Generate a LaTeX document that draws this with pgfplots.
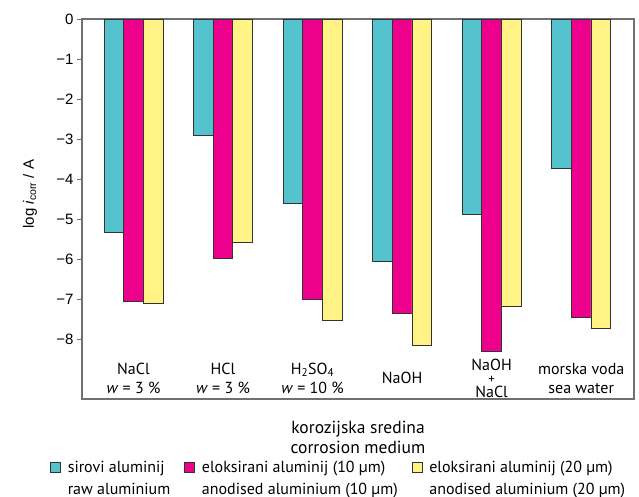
\documentclass[border=0pt]{standalone}
\usepackage{fontspec}
\setmainfont{PT Sans}
\newfontfamily\hel{Liberation Sans}
\usepackage{pgfplots}
\pgfplotsset{compat=1.18}
\definecolor{cy}{HTML}{55C3CD}
\definecolor{mg}{HTML}{EC008C}
\definecolor{yl}{HTML}{FFF385}
\definecolor{fr}{HTML}{707070}
\begin{document}
\begin{tikzpicture}
\useasboundingbox (-82bp,-98bp) rectangle (557bp,399bp);
\begin{axis}[
  at={(0,0)}, anchor=south west,
  scale only axis, width=552bp, height=380bp,
  ybar=0pt, bar width=19.6bp,
  xmin=-0.575, xmax=5.59, ymin=-9.5, ymax=0,
  xtick={0,1,2,3,4,5},
  xticklabels={{NaCl\\\textit{w} = 3 \%},{HCl\\\textit{w} = 3 \%},{H\textsubscript{2}SO\textsubscript{4}\\\textit{w} = 10 \%},{NaOH},{NaOH\\[-6bp]{\fontsize{13bp}{13bp}\selectfont +}\\[-5bp]NaCl},{morska voda\\sea water}},
  xticklabel style={align=center, anchor=center, yshift=26bp, font=\fontsize{16bp}{19bp}\selectfont},
  x tick style={draw=none},
  ytick={-8,-7,-6,-5,-4,-3,-2,-1,0},
  yticklabels={−8,−7,−6,−5,−4,−3,−2,−1,0},
  yticklabel style={font=\hel\fontsize{15bp}{18bp}\selectfont},
  ytick pos=left, tick align=outside, major tick length=5bp,
  y tick style={draw=fr, line width=1bp},
  axis line style={draw=fr, line width=1.2bp},
  xlabel={korozijska sredina\\corrosion medium},
  xlabel style={align=center, at={(axis description cs:0.5,-0.1)}, anchor=center, font=\fontsize{17.5bp}{20bp}\selectfont},
  ylabel={log \textit{i}\textsubscript{corr} / A},
  ylabel style={at={(axis description cs:-0.094,0.539)}, anchor=center, font=\hel\fontsize{15bp}{18bp}\selectfont},
  legend columns=3,
  legend style={draw=none, fill=none, inner sep=0pt, at={(axis description cs:0.465,-0.155)}, anchor=north,
    font=\fontsize{16bp}{19bp}\selectfont,
    cells={anchor=west, text height=12bp, text depth=3.5bp},
    /tikz/row sep=4.5bp,
    /tikz/every odd column/.append style={column sep=5bp},
    /tikz/every even column/.append style={column sep=12bp}},
  legend image code/.code={\draw[#1, line width=0.6bp] (-2bp,-5bp) rectangle (8bp,5bp);},
]
\addplot[fill=cy, draw=black!80, line width=0.7bp] coordinates {(0,-5.34) (1,-2.91) (2,-4.62) (3,-6.05) (4,-4.88) (5,-3.74)};
\addlegendentry{sirovi aluminij}
\addplot[fill=mg, draw=black!80, line width=0.7bp] coordinates {(0,-7.06) (1,-5.99) (2,-7.02) (3,-7.37) (4,-8.31) (5,-7.46)};
\addlegendentry{eloksirani aluminij (10 µm)}
\addplot[fill=yl, draw=black!80, line width=0.7bp] coordinates {(0,-7.11) (1,-5.59) (2,-7.54) (3,-8.17) (4,-7.19) (5,-7.74)};
\addlegendentry{eloksirani aluminij (20 µm)}
\addlegendimage{empty legend}
\addlegendentry{raw aluminium}
\addlegendimage{empty legend}
\addlegendentry{anodised aluminium (10 µm)}
\addlegendimage{empty legend}
\addlegendentry{anodised aluminium (20 µm)}
\end{axis}
\end{tikzpicture}
\end{document}
